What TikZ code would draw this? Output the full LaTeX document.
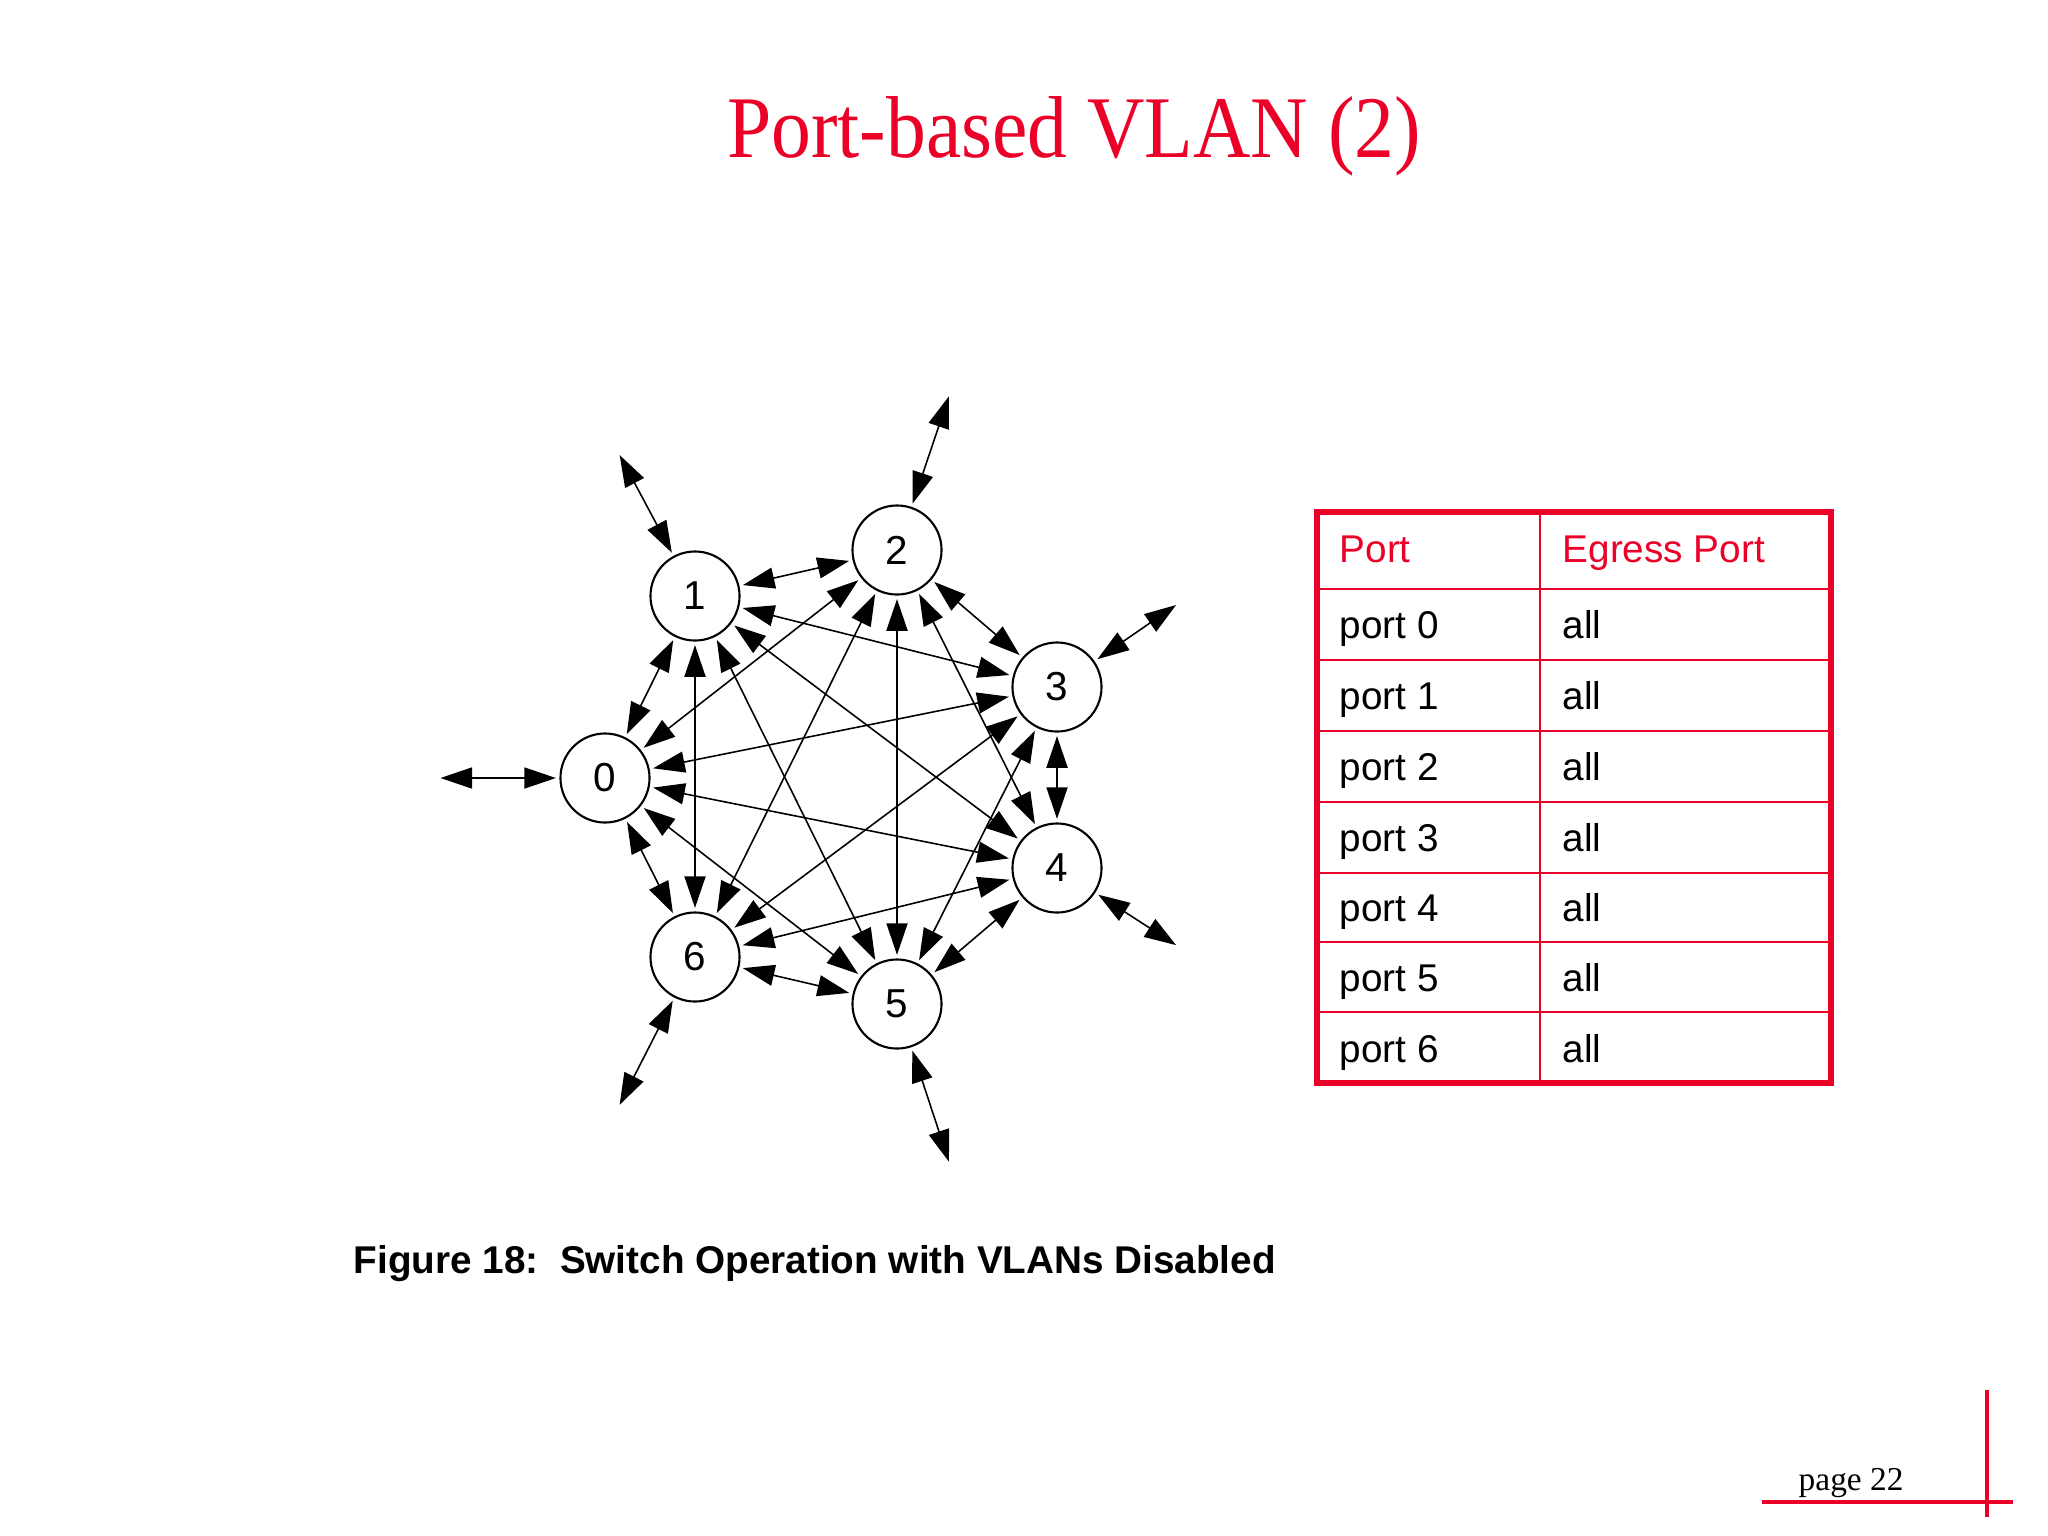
\documentclass[tikz,border=0pt]{standalone}
\usepackage{fontspec}
\setmainfont{Liberation Serif}
\newfontfamily\arialfont{Liberation Sans}
\usetikzlibrary{arrows.meta}
\definecolor{slidered}{RGB}{235,0,40}

\begin{document}
\begin{tikzpicture}[x=0.01cm,y=-0.01cm,>={Triangle[length=9pt,width=6pt]},
  port/.style={circle,draw,line width=0.6pt,minimum size=0.89cm,inner sep=0pt,font=\arialfont\fontsize{11.5}{13}\selectfont},
  link/.style={<->,line width=0.45pt,shorten <=1pt,shorten >=1pt},
  cell/.style={anchor=base west,inner sep=0pt,font=\arialfont\fontsize{11}{13}\selectfont}]
\useasboundingbox (0,0) rectangle (2048,1536);
\node[text=slidered,font=\fontsize{25}{30}\selectfont,anchor=base] (title) at (1074,157) {\scalebox{0.905}[1]{Port-based VLAN (2)}};
\node[port] (p0) at (605,778) {0};
\node[port] (p1) at (695,596) {1};
\node[port] (p2) at (897,550) {2};
\node[port] (p3) at (1057,687) {3};
\node[port] (p4) at (1057,868) {4};
\node[port] (p5) at (897,1004) {5};
\node[port] (p6) at (695,957) {6};
\foreach \a/\x/\y in {0/437/778,1/618/452,2/950/393,3/1179/603,4/1179/947,5/950/1165,6/618/1108}
  \coordinate (e\a) at (\x,\y);
\foreach \a in {0,...,6} \draw[link] (p\a) -- (e\a);
\foreach \a in {0,...,5}{
  \pgfmathtruncatemacro\s{\a+1}
  \foreach \b in {\s,...,6} \draw[link] (p\a) -- (p\b);
}
\node[anchor=base west,inner sep=0pt,font=\arialfont\bfseries\fontsize{11}{13}\selectfont] (caption) at (353,1273) {Figure 18:\ \ Switch Operation with VLANs Disabled};
\draw[slidered,line width=0.6pt] (1540,512) -- (1540,1083);
\foreach \y in {588.7,660,730.7,801.7,872.7,941.7,1012.3} \draw[slidered,line width=0.6pt] (1317,\y) -- (1831,\y);
\draw[slidered,line width=1.6pt] (1317,512) rectangle (1831,1083);
\node[cell,text=slidered] (hport) at (1339,562) {Port};
\node[cell,text=slidered] (hegress) at (1562,562) {Egress Port};
\foreach \n/\y in {0/638,1/709,2/780,3/851,4/921,5/991,6/1062}{
  \node[cell] (port\n) at (1339,\y) {port \n};
  \node[cell] (eg\n) at (1562,\y) {all};
}
\draw[slidered,line width=1.4pt] (1762,1502) -- (2013,1502);
\draw[slidered,line width=1.4pt] (1987,1390) -- (1987,1517);
\node[anchor=base west,inner sep=0pt,font=\fontsize{9.5}{11}\selectfont] (page) at (1798,1490) {page 22};
\end{tikzpicture}
\end{document}
